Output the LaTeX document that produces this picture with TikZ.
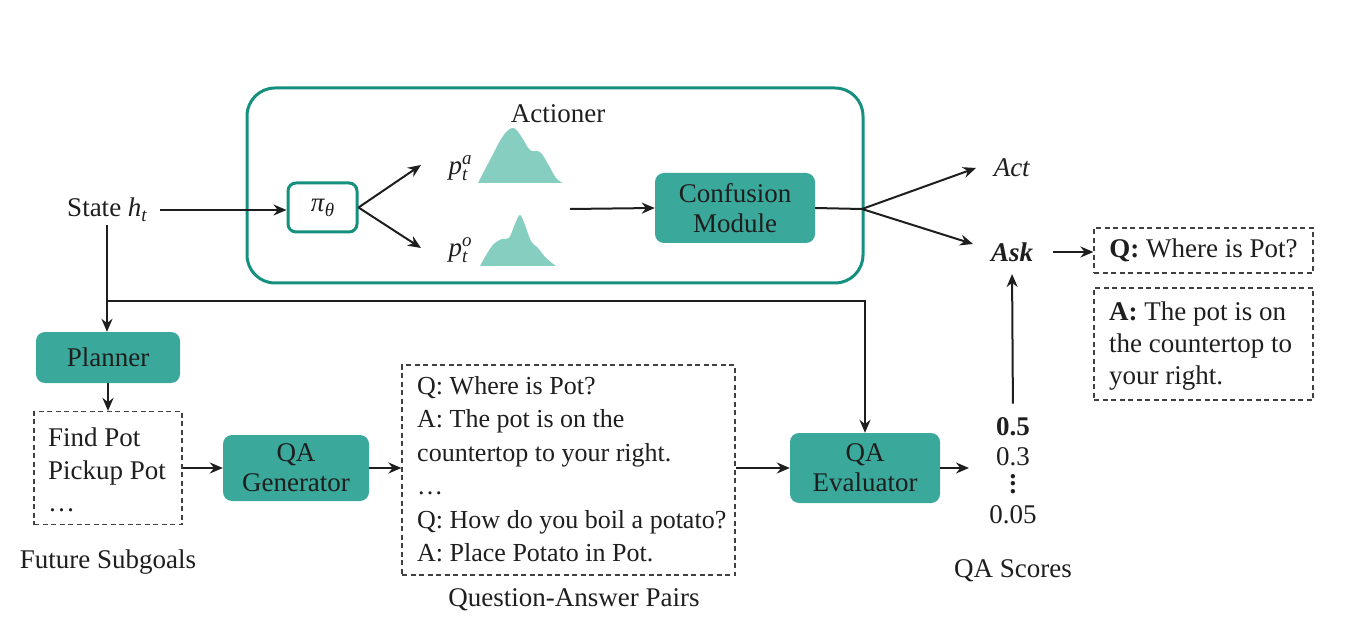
\documentclass[tikz,border=0pt]{standalone}
\usepackage{fontspec}
\setmainfont{Liberation Serif}
\usetikzlibrary{arrows.meta}
\definecolor{tealfill}{HTML}{3AA99B}
\definecolor{tealedge}{HTML}{15907F}
\definecolor{teallight}{HTML}{86CFC0}
\definecolor{ink}{HTML}{1E1E1E}
\newcommand{\scriptit}[1]{{\fontsize{19}{19}\selectfont\itshape #1}}
\newcommand{\myvdots}{\vbox{\baselineskip=7.5pt\lineskiplimit=-20pt\hbox{\textbf{.}}\hbox{\textbf{.}}\hbox{\textbf{.}}}}
\begin{document}
\begin{tikzpicture}[x=1pt,y=-1pt,
  font=\fontsize{27}{33.5}\selectfont, text=ink,
  module/.style={fill=tealfill, rounded corners=9pt, align=center, inner sep=0pt,
    font=\fontsize{27}{30}\selectfont},
  dbox/.style={draw=ink!85, dash pattern=on 5pt off 3.5pt, line width=1.2pt, inner sep=0pt},
  arr/.style={-{Stealth[length=13pt,width=11pt]}, line width=2pt, draw=ink},
  plain/.style={line width=2pt, draw=ink}]
\useasboundingbox (0,0) rectangle (1354,620);

% Actioner container
\node[draw=tealedge, line width=3pt, rounded corners=28pt, minimum width=616pt, minimum height=195pt] (actbox) at (555,185.5) {};
\node (actlabel) at (558,114) {Actioner};

% policy box
\node[draw=tealedge, line width=3pt, fill=white, rounded corners=8pt, minimum width=69pt, minimum height=49pt, inner sep=0pt] (pi) at (322.5,207.5) {\textit{π}\raisebox{-5pt}{\scriptit{θ}}};

% state
\node (state) at (107,210) {State \textit{h}\raisebox{-5pt}{\scriptit{t}}};
\draw[arr, shorten <=10pt] (state.east) -- (state.east -| pi.west);

% distributions
\node (pa) at (458,168) {\textit{p}\rlap{\raisebox{10pt}{\scriptit{a}}}\raisebox{-6pt}{\scriptit{t}}};
\node (po) at (458,250) {\textit{p}\rlap{\raisebox{10pt}{\scriptit{o}}}\raisebox{-6pt}{\scriptit{t}}};
\coordinate (pae) at (421,165);
\coordinate (poe) at (421,248);
\draw[arr] (pi.east) -- (pae);
\draw[arr] (pi.east) -- (poe);
\fill[teallight] plot[smooth, tension=0.6] coordinates {(478,183) (490,160) (503,136) (513,128) (521,136) (530,150) (540,152) (548,164) (556,178) (563,183)} -- cycle;
\fill[teallight] plot[smooth, tension=0.6] coordinates {(480,266) (492,246) (502,239) (509,238) (515,224) (520,215) (525,225) (531,241) (538,248) (546,258) (556,266)} -- cycle;

% confusion module
\node[module, minimum width=160pt, minimum height=70pt] (conf) at (735,208) {Confusion\\Module};
\coordinate (distout) at (570,209);
\draw[arr] (distout) -- (conf.west);

% act / ask
\node (act) at (1012,168) {\textit{Act}};
\node (ask) at (1012,252) {\textbf{\textit{Ask}}};
\coordinate (split) at (862,209);
\coordinate (acte) at (976,168);
\coordinate (aske) at (973,244);
\draw[plain] (conf.east) -- (split);
\draw[arr] (split) -- (acte);
\draw[arr] (split) -- (aske);

% Q / A boxes
\node[dbox, minimum width=219pt, minimum height=45pt] (qbox) at (1203.5,250.5) {\textbf{Q:} Where is Pot?};
\node[dbox, minimum width=219pt, minimum height=112pt] (abox) at (1203.5,344) {};
\node[anchor=west, align=left, inner sep=0pt, font=\fontsize{27}{32}\selectfont] (atext) at (1109,346) {\textbf{A:} The pot is on\\the countertop to\\your right.};
\draw[arr, shorten <=16pt] (ask.east) -- (ask.east -| qbox.west);

% scores
\node[inner sep=0pt] (s1) at (1013,427) {\textbf{0.5}};
\node[inner sep=0pt] (s2) at (1013,457) {0.3};
\node[inner sep=0pt] (sd) at (1013,484) {\myvdots};
\node[inner sep=0pt] (s3) at (1013,515) {0.05};
\node (scores) at (1013,571) {QA Scores};
\draw[arr, shorten <=14pt, shorten >=9pt] (s1.north) -- (ask.south);

% planner branch
\node[module, minimum width=144pt, minimum height=51pt] (planner) at (108,357.5) {Planner};
\draw[arr] (state.south) -- (state.south |- planner.north);
\coordinate (br) at (107,301);
\node[module, minimum width=150pt, minimum height=70pt] (qaeval) at (865,468) {QA\\Evaluator};
\draw[arr] (br) -| (qaeval.north);

% subgoals
\node[dbox, minimum width=148pt, minimum height=113pt] (subgoals) at (108,468) {};
\node[anchor=west, align=left, inner sep=0pt, font=\fontsize{27}{32.5}\selectfont] (subtext) at (48,470) {Find Pot\\Pickup Pot\\…};
\node (sublabel) at (108,562) {Future Subgoals};
\draw[arr] (planner.south) -- (planner.south |- subgoals.north);

% QA generator
\node[module, minimum width=146pt, minimum height=66pt] (qagen) at (296,468) {QA\\Generator};
\draw[arr] (subgoals.east) -- (qagen.west);

% QA pairs
\node[dbox, minimum width=333pt, minimum height=210pt] (pairs) at (568.5,470) {};
\node[anchor=west, align=left, inner sep=0pt, font=\fontsize{26}{33.5}\selectfont] (pairtext) at (417,469)
  {Q: Where is Pot?\\A: The pot is on the\\countertop to your right.\\…\\Q: How do you boil a potato?\\A: Place Potato in Pot.};
\node (pairlabel) at (574,600) {Question-Answer Pairs};
\draw[arr] (qagen.east) -- (qagen.east -| pairs.west);
\draw[arr] (pairs.west -| pairs.east) ++(0,-2) -- (qaeval.west);

\coordinate (evalout) at (969,468);
\draw[arr] (qaeval.east) -- (evalout);
\end{tikzpicture}
\end{document}
